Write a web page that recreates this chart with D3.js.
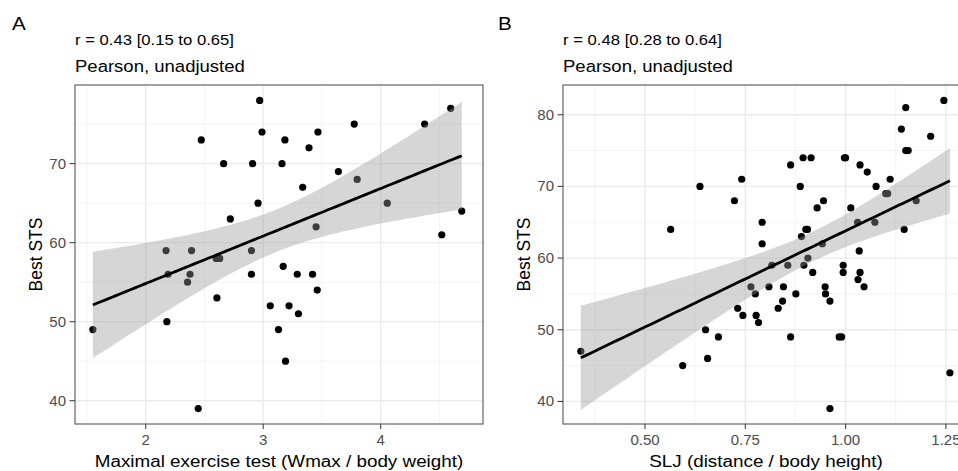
<!DOCTYPE html>
<html>
<head>
<meta charset="utf-8">
<script src="https://cdn.jsdelivr.net/npm/d3@7"></script>
<style>
  html, body { margin: 0; padding: 0; background: #ffffff; }
  svg { display: block; }
</style>
</head>
<body>
<svg id="chart" width="958" height="471"></svg>
<script>
// ---------------- DATA ----------------
// Panel A: Maximal exercise test (Wmax / body weight) vs Best STS
const wmaxA = [1.55, 2.173, 2.18, 2.19, 2.356, 2.377, 2.39, 2.447, 2.473, 2.606, 2.60, 2.63,
  2.663, 2.72, 2.90, 2.90, 2.91, 2.956, 2.97, 2.99, 3.06, 3.13, 3.16, 3.17, 3.185, 3.19, 3.22,
  3.29, 3.30, 3.336, 3.39, 3.42, 3.45, 3.46, 3.466, 3.64, 3.775, 3.80, 4.056, 4.374, 4.52, 4.596, 4.69];
const stsA = [49, 59, 50, 56, 55, 56, 59, 39, 73, 53, 58, 58,
  70, 63, 59, 56, 70, 65, 78, 74, 52, 49, 70, 57, 73, 45, 52,
  56, 51, 67, 72, 56, 62, 54, 74, 69, 75, 68, 65, 75, 61, 77, 64];

// Panel B: SLJ (distance / body height) vs Best STS
const sljB = [0.340, 0.564, 0.594, 0.637, 0.651, 0.656, 0.683, 0.723, 0.731, 0.741, 0.744, 0.764,
  0.775, 0.777, 0.783, 0.792, 0.792, 0.809, 0.816, 0.832, 0.843, 0.845, 0.856, 0.863, 0.863, 0.876,
  0.887, 0.890, 0.894, 0.896, 0.901, 0.905, 0.906, 0.914, 0.918, 0.929, 0.942, 0.945, 0.949, 0.950,
  0.961, 0.961, 0.984, 0.990, 0.994, 0.994, 0.997, 1.000, 1.013, 1.031, 1.030, 1.034, 1.036, 1.036,
  1.046, 1.054, 1.073, 1.076, 1.100, 1.105, 1.111, 1.139, 1.146, 1.150, 1.150, 1.156, 1.176, 1.212,
  1.245, 1.260];
const stsB = [47, 64, 45, 70, 50, 46, 49, 68, 53, 71, 52, 56,
  55, 52, 51, 65, 62, 56, 59, 53, 54, 56, 59, 49, 73, 55,
  70, 63, 74, 59, 64, 64, 60, 74, 58, 67, 62, 68, 56, 55,
  54, 39, 49, 49, 59, 58, 74, 74, 67, 57, 65, 61, 58, 73,
  56, 72, 65, 70, 69, 69, 71, 78, 64, 81, 75, 75, 68, 77,
  82, 44];

// Tick values and labels
const xTicksA = [2, 3, 4];
const xTickLabelsA = ["2", "3", "4"];
const yTicksA = [40, 50, 60, 70];
const yTickLabelsA = ["40", "50", "60", "70"];
const xTicksB = [0.5, 0.75, 1.0, 1.25];
const xTickLabelsB = ["0.50", "0.75", "1.00", "1.25"];
const yTicksB = [40, 50, 60, 70, 80];
const yTickLabelsB = ["40", "50", "60", "70", "80"];

// Texts
const panelLetters = ["A", "B"];
const corrTexts = ["r = 0.43 [0.15 to 0.65]", "r = 0.48 [0.28 to 0.64]"];
const methodText = "Pearson, unadjusted";
const xTitles = ["Maximal exercise test (Wmax / body weight)", "SLJ (distance / body height)"];
const yTitle = "Best STS";

// ---------------- RENDERING ----------------
const FONT = "'Liberation Sans', Arial, Helvetica, sans-serif";
const SX = 1.09; // horizontal text stretch seen in reference
const svg = d3.select("#chart");
svg.append("rect").attr("width", 958).attr("height", 471).attr("fill", "#ffffff");

function addText(g, x, y, str, size, opts = {}) {
  const rot = opts.rotate ? " rotate(-90)" : "";
  return g.append("text")
    .attr("transform", `translate(${x},${y}) scale(${SX},1)${rot}`)
    .attr("text-anchor", opts.anchor || "start")
    .attr("font-family", FONT)
    .attr("font-size", size)
    .attr("fill", opts.fill || "#000000")
    .text(str);
}

// t quantile (0.975) via Cornish-Fisher expansion
function tq975(df) {
  const z = 1.959963985;
  const z3 = z ** 3, z5 = z ** 5, z7 = z ** 7;
  return z + (z3 + z) / (4 * df) + (5 * z5 + 16 * z3 + 3 * z) / (96 * df * df)
    + (3 * z7 + 19 * z5 + 17 * z3 - 15 * z) / (384 * df ** 3);
}

function regression(xs, ys) {
  const n = xs.length;
  const mx = d3.mean(xs), my = d3.mean(ys);
  let sxx = 0, sxy = 0;
  for (let i = 0; i < n; i++) { sxx += (xs[i] - mx) ** 2; sxy += (xs[i] - mx) * (ys[i] - my); }
  const b = sxy / sxx, a = my - b * mx;
  let sse = 0;
  for (let i = 0; i < n; i++) sse += (ys[i] - (a + b * xs[i])) ** 2;
  const s = Math.sqrt(sse / (n - 2));
  const t = tq975(n - 2);
  const [x0, x1] = d3.extent(xs);
  return d3.range(0, 81).map(k => {
    const x = x0 + (x1 - x0) * k / 80;
    const yhat = a + b * x;
    const se = s * Math.sqrt(1 / n + (x - mx) ** 2 / sxx);
    return { x, y: yhat, lo: yhat - t * se, hi: yhat + t * se };
  });
}

const panels = [
  {
    id: 0, letterX: 12, box: { l: 75, r: 483, t: 85, b: 424 },
    xDomain: [1.398, 4.871], yDomain: [37.05, 79.95],
    xs: wmaxA, ys: stsA,
    xTicks: xTicksA, xTickLabels: xTickLabelsA, yTicks: yTicksA, yTickLabels: yTickLabelsA,
    xMinor: [1.5, 2.5, 3.5, 4.5], yMinor: [45, 55, 65, 75]
  },
  {
    id: 1, letterX: 498, box: { l: 563, r: 969, t: 85, b: 424 },
    xDomain: [0.2956, 1.3076], yDomain: [36.85, 84.15],
    xs: sljB, ys: stsB,
    xTicks: xTicksB, xTickLabels: xTickLabelsB, yTicks: yTicksB, yTickLabels: yTickLabelsB,
    xMinor: [0.375, 0.625, 0.875, 1.125], yMinor: [45, 55, 65, 75]
  }
];

panels.forEach(p => {
  const { l, r, t, b } = p.box;
  const x = d3.scaleLinear().domain(p.xDomain).range([l, r]);
  const y = d3.scaleLinear().domain(p.yDomain).range([b, t]);
  const g = svg.append("g");

  // Header texts
  addText(g, p.letterX, 29.5, panelLetters[p.id], 19);
  addText(g, l, 45, corrTexts[p.id], 15.3);
  addText(g, l, 71.5, methodText, 17);

  // Clip
  const clipId = "clip" + p.id;
  svg.append("clipPath").attr("id", clipId)
    .append("rect").attr("x", l).attr("y", t).attr("width", r - l).attr("height", b - t);
  const pg = g.append("g").attr("clip-path", `url(#${clipId})`);

  pg.append("rect").attr("x", l).attr("y", t).attr("width", r - l).attr("height", b - t).attr("fill", "#ffffff");

  // minor grid
  pg.selectAll(".vminor").data(p.xMinor).join("line")
    .attr("x1", d => x(d)).attr("x2", d => x(d)).attr("y1", t).attr("y2", b)
    .attr("stroke", "#f2f2f2").attr("stroke-width", 0.8);
  pg.selectAll(".hminor").data(p.yMinor).join("line")
    .attr("x1", l).attr("x2", r).attr("y1", d => y(d)).attr("y2", d => y(d))
    .attr("stroke", "#f2f2f2").attr("stroke-width", 0.8);
  // major grid
  pg.selectAll(".vmajor").data(p.xTicks).join("line")
    .attr("x1", d => x(d)).attr("x2", d => x(d)).attr("y1", t).attr("y2", b)
    .attr("stroke", "#ebebeb").attr("stroke-width", 1.4);
  pg.selectAll(".hmajor").data(p.yTicks).join("line")
    .attr("x1", l).attr("x2", r).attr("y1", d => y(d)).attr("y2", d => y(d))
    .attr("stroke", "#ebebeb").attr("stroke-width", 1.4);

  // points
  const pts = p.xs.map((v, i) => [v, p.ys[i]]);
  pg.selectAll("circle").data(pts).join("circle")
    .attr("cx", d => x(d[0])).attr("cy", d => y(d[1])).attr("r", 3.6)
    .attr("fill", "#000000");

  // regression band + line
  const reg = regression(p.xs, p.ys);
  pg.append("path").datum(reg)
    .attr("d", d3.area().x(d => x(d.x)).y0(d => y(d.lo)).y1(d => y(d.hi)))
    .attr("fill", "#999999").attr("fill-opacity", 0.4);
  pg.append("path").datum(reg)
    .attr("d", d3.line().x(d => x(d.x)).y(d => y(d.y)))
    .attr("fill", "none").attr("stroke", "#000000").attr("stroke-width", 2.8);

  // border
  g.append("rect").attr("x", l).attr("y", t).attr("width", r - l).attr("height", b - t)
    .attr("fill", "none").attr("stroke", "#555555").attr("stroke-width", 1.1);

  // axes ticks
  g.selectAll(".xt").data(p.xTicks).join("line")
    .attr("x1", d => x(d)).attr("x2", d => x(d)).attr("y1", b).attr("y2", b + 5)
    .attr("stroke", "#444444").attr("stroke-width", 1.1);
  g.selectAll(".yt").data(p.yTicks).join("line")
    .attr("x1", l - 5.5).attr("x2", l).attr("y1", d => y(d)).attr("y2", d => y(d))
    .attr("stroke", "#444444").attr("stroke-width", 1.1);

  p.xTicks.forEach((v, i) => {
    addText(g, x(v), b + 20.5, p.xTickLabels[i], 13.8, { anchor: "middle", fill: "#4d4d4d" });
  });
  p.yTicks.forEach((v, i) => {
    addText(g, l - 9, y(v) + 4.9, p.yTickLabels[i], 13.8, { anchor: "end", fill: "#4d4d4d" });
  });

  // axis titles
  addText(g, (l + r) / 2, 466.5, xTitles[p.id], 17.3, { anchor: "middle" });
  addText(g, l - 33.3, (t + b) / 2, yTitle, 17.5, { anchor: "middle", rotate: true });
});
</script>
</body>
</html>
